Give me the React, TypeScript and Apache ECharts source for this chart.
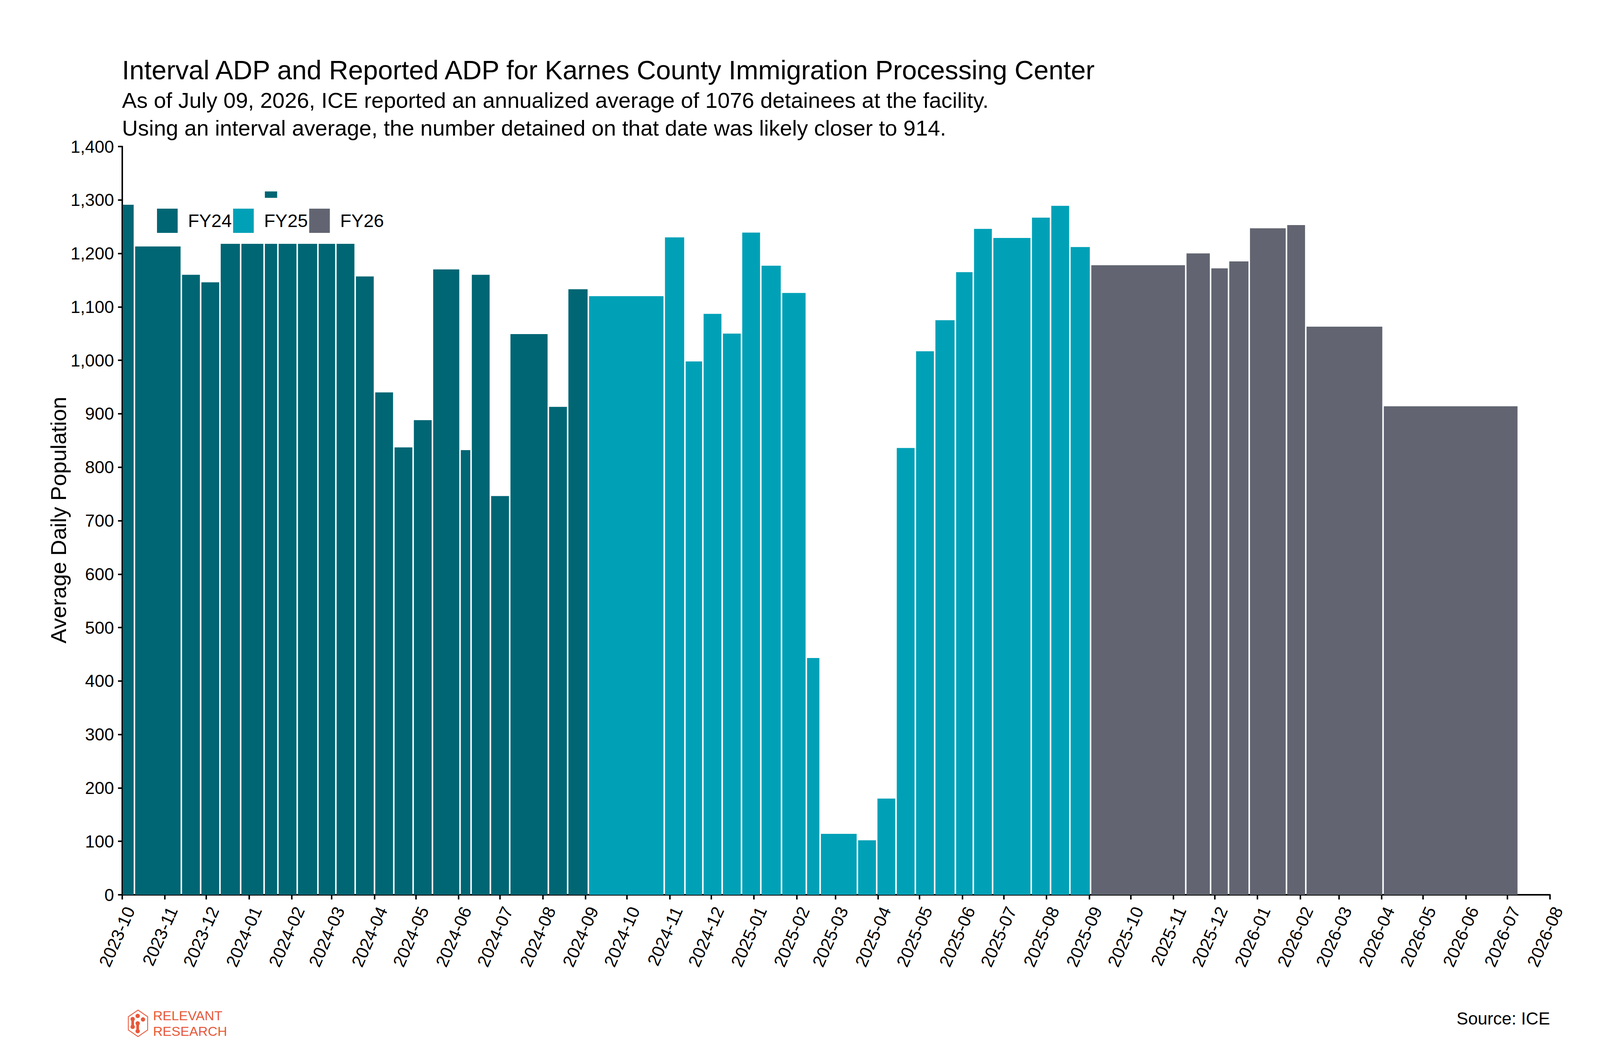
import React, { useEffect, useRef } from "react";
import * as echarts from "echarts";

// interval boundaries (each bar runs from one date to the next)
const boundaries = [
  "2023-10-01", "2023-10-10", "2023-11-13", "2023-11-27", "2023-12-11",
  "2023-12-26", "2024-01-12", "2024-01-22", "2024-02-05", "2024-02-20",
  "2024-03-04", "2024-03-18", "2024-04-01", "2024-04-15", "2024-04-29",
  "2024-05-13", "2024-06-02", "2024-06-10", "2024-06-24", "2024-07-08",
  "2024-08-05", "2024-08-19", "2024-09-03", "2024-10-28", "2024-11-12",
  "2024-11-25", "2024-12-09", "2024-12-23", "2025-01-06", "2025-01-21",
  "2025-02-08", "2025-02-18", "2025-03-17", "2025-03-31", "2025-04-14",
  "2025-04-28", "2025-05-12", "2025-05-27", "2025-06-09", "2025-06-23",
  "2025-07-21", "2025-08-04", "2025-08-18", "2025-09-02", "2025-11-10",
  "2025-11-28", "2025-12-11", "2025-12-26", "2026-01-22", "2026-02-05",
  "2026-04-02", "2026-07-09",
];

// interval average daily population, one per interval
const intervalAdp = [
  1291, 1213, 1160, 1146, 1218, 1218, 1218, 1218, 1218, 1218, 1218, 1157,
  940, 837, 888, 1170, 832, 1160, 746, 1049, 913, 1133,
  1120, 1230, 998, 1087, 1050, 1239, 1177, 1126, 443, 114, 102, 180, 836,
  1017, 1075, 1165, 1246, 1229, 1267, 1289, 1212,
  1178, 1200, 1172, 1185, 1247, 1253, 1063, 914,
];

const fiscalYears = ["FY24", "FY25", "FY26"];
const barsPerYear = [22, 21, 8];
const fyColors = ["#006674", "#00A1B7", "#626571"];

// the small floating block over the mid-January 2024 interval
const markInterval = ["2024-01-12", "2024-01-22"];
const markRange = [1304, 1316];

const yMax = 1400;
const yStep = 100;

const FONT = '"Liberation Sans", Arial, Helvetica, sans-serif';
const LOGO = "#E8583A";
// layout is designed on a 4800 x 2700 page and stretched to the real one
const BASE_W = 4800;
const BASE_H = 2700;

const toTime = (s: string) => {
  const [y, m, d] = s.split("-").map(Number);
  return new Date(y, m - 1, d).getTime();
};

const monthTicks: number[] = [];
for (let i = 0; i <= 34; i++) monthTicks.push(new Date(2023, 9 + i, 1).getTime());

const buildOption = (sx: number, sy: number) => {
  const px = (v: number) => v * sx;
  const py = (v: number) => v * sy;
  const fs = (v: number) => v * sx;
  const sm = Math.min(sx, sy);
  const gap = px(4.5);
  const axisStroke = { color: "#000", width: 4.5 * sm };

  const renderItem = (params: any, api: any) => {
    const p0 = api.coord([api.value(0), api.value(3)]);
    const p1 = api.coord([api.value(1), api.value(2)]);
    return {
      type: "rect",
      shape: {
        x: p0[0] + gap / 2,
        y: p1[1],
        width: p1[0] - p0[0] - gap,
        height: p0[1] - p1[1],
      },
      style: { fill: api.visual("color") },
    };
  };

  let idx = 0;
  const series = fiscalYears.map((fy, n) => {
    const data: number[][] = [];
    for (let j = 0; j < barsPerYear[n]; j++, idx++) {
      data.push([toTime(boundaries[idx]), toTime(boundaries[idx + 1]), intervalAdp[idx], 0]);
    }
    if (n === 0) {
      data.push([toTime(markInterval[0]), toTime(markInterval[1]), markRange[1], markRange[0]]);
    }
    return {
      name: fy,
      type: "custom",
      renderItem,
      encode: { x: [0, 1], y: [2, 3] },
      itemStyle: { color: fyColors[n] },
      data,
    };
  });

  const text = (t: string, x: number, y: number, size: number, extra: any = {}) => ({
    type: "text",
    x: px(x),
    y: py(y),
    ...extra,
    style: {
      text: t,
      fontSize: fs(size),
      fontFamily: FONT,
      fill: "#000",
      align: "left",
      verticalAlign: "middle",
      ...(extra.style || {}),
    },
  });

  const dot = (cx: number, cy: number) => ({
    type: "circle",
    shape: { cx: px(cx), cy: py(cy), r: 6.5 * sm },
    style: { fill: LOGO },
  });
  const neck = (x: number, y: number) => ({
    type: "rect",
    shape: { x: px(x), y: py(y), width: px(8), height: py(20) },
    style: { fill: LOGO },
  });

  const logo = {
    type: "group",
    children: [
      {
        type: "polygon",
        shape: {
          points: [
            [414, 2585], [443, 2602], [443, 2636], [414, 2653], [385, 2636], [385, 2602],
          ].map(([a, b]) => [px(a), py(b)]),
        },
        style: { fill: "none", stroke: LOGO, lineWidth: 2.5 * sm },
      },
      dot(413, 2600),
      dot(429, 2609),
      dot(398, 2608),
      dot(398, 2628),
      neck(394, 2608),
      dot(413, 2619),
      dot(413, 2639),
      neck(409, 2619),
      text("RELEVANT", 459, 2599, 40, { style: { fill: LOGO } }),
      text("RESEARCH", 459, 2639, 40, { style: { fill: LOGO } }),
    ],
  };

  return {
    animation: false,
    backgroundColor: "#fff",
    textStyle: { fontFamily: FONT },
    grid: { left: px(366), right: px(150), top: py(375), bottom: py(410) },
    legend: {
      data: fiscalYears,
      left: px(471),
      top: py(534),
      padding: 0,
      icon: "rect",
      itemWidth: px(62),
      itemHeight: py(62),
      itemGap: px(4),
      textStyle: {
        fontSize: fs(55),
        color: "#000",
        fontFamily: FONT,
        padding: [0, 0, 0, px(25)],
      },
    },
    xAxis: {
      type: "value",
      min: monthTicks[0],
      max: monthTicks[monthTicks.length - 1],
      axisLine: { show: true, lineStyle: axisStroke },
      axisTick: { show: true, customValues: monthTicks, length: py(12), lineStyle: axisStroke },
      axisLabel: {
        customValues: monthTicks,
        rotate: 66,
        margin: py(24),
        verticalAlign: "top",
        fontSize: fs(52),
        color: "#000",
        fontFamily: FONT,
        formatter: (v: number) => {
          const d = new Date(v);
          return `${d.getFullYear()}-${String(d.getMonth() + 1).padStart(2, "0")}`;
        },
      },
      splitLine: { show: false },
    },
    yAxis: {
      type: "value",
      min: 0,
      max: yMax,
      interval: yStep,
      axisLine: { show: true, lineStyle: axisStroke },
      axisTick: { show: true, length: px(12), lineStyle: axisStroke },
      axisLabel: {
        fontSize: fs(52),
        margin: px(24),
        color: "#000",
        fontFamily: FONT,
        formatter: (v: number) => v.toLocaleString("en-US"),
      },
      splitLine: { show: false },
    },
    graphic: [
      text("Interval ADP and Reported ADP for Karnes County Immigration Processing Center", 366, 179, 80),
      text("As of July 09, 2026, ICE reported an annualized average of 1076 detainees at the facility.", 366, 256, 66),
      text("Using an interval average, the number detained on that date was likely closer to 914.", 366, 327, 66),
      text("Average Daily Population", 175, 1331, 66, {
        rotation: Math.PI / 2,
        style: { align: "center" },
      }),
      text("Source: ICE", 4650, 2606, 52, { style: { align: "right" } }),
      logo,
    ],
    series,
  };
};

const App = () => {
  const chartRef = useRef<HTMLDivElement>(null);

  useEffect(() => {
    document.body.style.margin = "0";
    document.documentElement.style.overflow = "hidden";
    const el = chartRef.current;
    if (!el) return;
    const chart = echarts.init(el, undefined, { renderer: "svg" });

    const draw = () => {
      chart.resize();
      chart.setOption(buildOption(el.clientWidth / BASE_W, el.clientHeight / BASE_H), true);
    };
    draw();

    window.addEventListener("resize", draw);
    return () => {
      window.removeEventListener("resize", draw);
      chart.dispose();
    };
  }, []);

  return <div ref={chartRef} style={{ width: "100vw", height: "100vh" }} />;
};

export default App;
